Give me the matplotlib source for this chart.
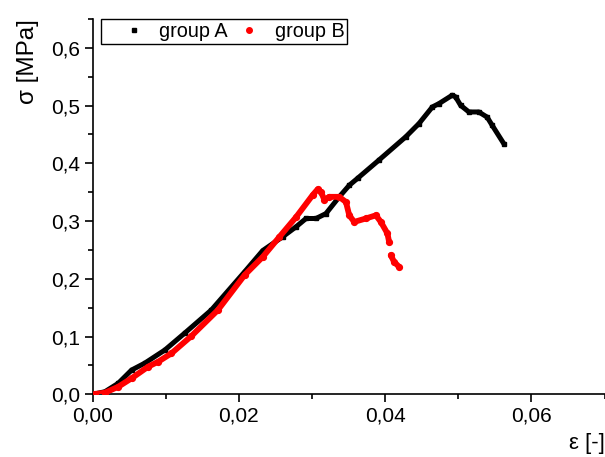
import numpy as np
import matplotlib.pyplot as plt
from matplotlib.lines import Line2D
from matplotlib.ticker import MultipleLocator, FuncFormatter

plt.rcParams['font.family'] = ['Liberation Sans', 'DejaVu Sans']

# group A (black)
eps_a = [0.0, 0.00168, 0.00349, 0.00532, 0.00713, 0.00986, 0.01259, 0.01623,
         0.02077, 0.02326, 0.0260, 0.0278, 0.02918, 0.03055, 0.0319, 0.03372,
         0.03509, 0.03622, 0.03918, 0.04282, 0.04463, 0.04645, 0.04736, 0.04917,
         0.04964, 0.05032, 0.05145, 0.05281, 0.05395, 0.05463, 0.05623]
sig_a = [0.0, 0.0045, 0.019, 0.042, 0.054, 0.0766, 0.106, 0.146,
         0.212, 0.249, 0.273, 0.290, 0.3045, 0.3045, 0.313, 0.342,
         0.362, 0.374, 0.406, 0.446, 0.469, 0.4976, 0.5035, 0.518,
         0.515, 0.5005, 0.489, 0.489, 0.480, 0.466, 0.434]

# group B (red), nan = sparse region
eps_b = [0.0003, 0.00168, 0.00349, 0.00532, 0.00758, 0.00895, 0.01077, 0.0135,
         0.01713, 0.02077, 0.02326, 0.02554, 0.02782, 0.03008, 0.03076, 0.03123,
         0.03168, 0.03236, 0.03372, 0.03464, 0.03509, 0.03577, 0.03736, 0.03873,
         0.03941, 0.04031, 0.04054, np.nan, 0.04077, 0.04122, 0.0419]
sig_b = [0.0005, 0.0028, 0.013, 0.0277, 0.0478, 0.0564, 0.0709, 0.1009,
         0.146, 0.2064, 0.238, 0.2727, 0.307, 0.345, 0.355, 0.3505,
         0.337, 0.342, 0.342, 0.333, 0.310, 0.2986, 0.3045, 0.310,
         0.2986, 0.2786, 0.264, np.nan, 0.241, 0.2294, 0.2208]

fig = plt.figure(figsize=(6.05, 4.57), dpi=100)
ax = fig.add_axes([0.1532, 0.1372, 0.846, 0.8212])

ax.plot(eps_a, sig_a, color='black', lw=3.6, marker='s', ms=3.0,
        solid_capstyle='round', solid_joinstyle='round', zorder=3)
ax.plot(eps_b, sig_b, color='red', lw=4.2, marker='o', ms=4.2,
        solid_capstyle='round', solid_joinstyle='round', zorder=4)

ax.set_xlim(0, 0.07)
ax.set_ylim(0, 0.65)
ax.xaxis.set_major_locator(MultipleLocator(0.02))
ax.xaxis.set_minor_locator(MultipleLocator(0.01))
ax.yaxis.set_major_locator(MultipleLocator(0.1))
ax.yaxis.set_minor_locator(MultipleLocator(0.05))
ax.xaxis.set_major_formatter(FuncFormatter(lambda v, p: f'{v:.2f}'.replace('.', ',')))
ax.yaxis.set_major_formatter(FuncFormatter(lambda v, p: f'{v:.1f}'.replace('.', ',')))

for s in ['top', 'right']:
    ax.spines[s].set_visible(False)
for s in ['left', 'bottom']:
    ax.spines[s].set_linewidth(1.2)

ax.tick_params(which='major', direction='out', length=6, width=1.2,
               labelsize=15, pad=3)
ax.tick_params(which='minor', direction='out', length=3.5, width=1.2)

ax.set_xlabel('ε [-]', fontsize=16, loc='right', labelpad=5)
ax.set_ylabel('σ [MPa]', fontsize=17.5, loc='top', labelpad=9)

handles = [Line2D([], [], color='black', marker='s', ls='none', ms=3.5),
           Line2D([], [], color='red', marker='o', ls='none', ms=4)]
leg = ax.legend(handles, ['group A', 'group B'], loc='upper left',
                bbox_to_anchor=(0.016, 1.0), borderaxespad=0, ncol=2,
                fontsize=14.3, frameon=True, fancybox=False, framealpha=1,
                edgecolor='black', handletextpad=-0.2, columnspacing=-0.45,
                borderpad=0.15, handlelength=3.0)
leg.get_frame().set_linewidth(1.0)

fig.savefig('out.png', dpi=100)
